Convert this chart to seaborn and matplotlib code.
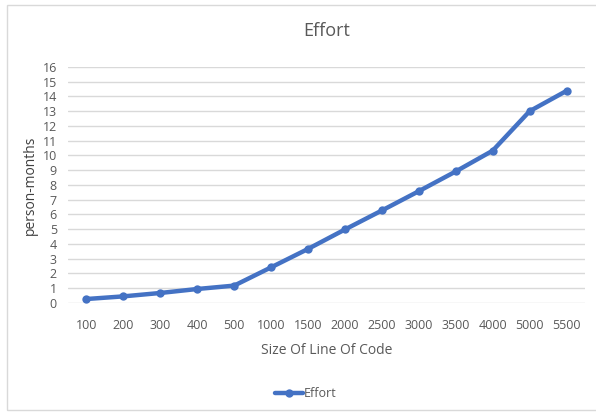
import matplotlib.pyplot as plt
import seaborn as sns
import pandas as pd
from matplotlib.patches import Rectangle

# Данные графика
loc_sizes = ['100', '200', '300', '400', '500', '1000', '1500', '2000',
             '2500', '3000', '3500', '4000', '5000', '5500']
effort = [0.25, 0.43, 0.66, 0.93, 1.16, 2.4, 3.65, 4.97,
          6.26, 7.57, 8.91, 10.32, 13.0, 14.38]

df = pd.DataFrame({'loc': loc_sizes, 'Effort': effort})

sns.set_style('white')
plt.rcParams['font.family'] = ['Open Sans', 'DejaVu Sans']

fig = plt.figure(figsize=(5.96, 4.17), dpi=100)
ax = fig.add_axes([68 / 596, 1 - 302.7 / 417, 517 / 596, 235.7 / 417])

# Рамка вокруг диаграммы
fig.patches.append(Rectangle((7 / 596, 1 - 410 / 417), 600 / 596, 405 / 417,
                             transform=fig.transFigure, fill=False,
                             edgecolor='#d9d9d9', linewidth=1))

sns.lineplot(data=df, x='loc', y='Effort', sort=False, ax=ax,
             color='#4472C4', linewidth=3.2, marker='o', markersize=6,
             markeredgewidth=0, label='Effort')

ax.set_xlim(-0.5, len(loc_sizes) - 0.5)
ax.set_ylim(0, 16)
ax.set_yticks(range(0, 17))
ax.grid(axis='y', color='#d9d9d9', linewidth=1)
ax.set_axisbelow(True)
for s in ax.spines.values():
    s.set_visible(False)
ax.tick_params(axis='both', length=0, labelsize=9, colors='#595959')
ax.tick_params(axis='x', pad=12)
ax.tick_params(axis='y', pad=8)

ax.set_title('Effort', fontsize=13, color='#595959', pad=22)
ax.set_xlabel('Size Of Line Of Code', fontsize=10, color='#595959', labelpad=8)
ax.set_ylabel('person-months', fontsize=10, color='#404040', labelpad=3)

leg = ax.legend(loc='upper center', bbox_to_anchor=(0.46, -0.31), frameon=False,
                fontsize=9, handlelength=2.2, handletextpad=0.1)
for t in leg.get_texts():
    t.set_color('#595959')

fig.savefig('out.png', dpi=100)
